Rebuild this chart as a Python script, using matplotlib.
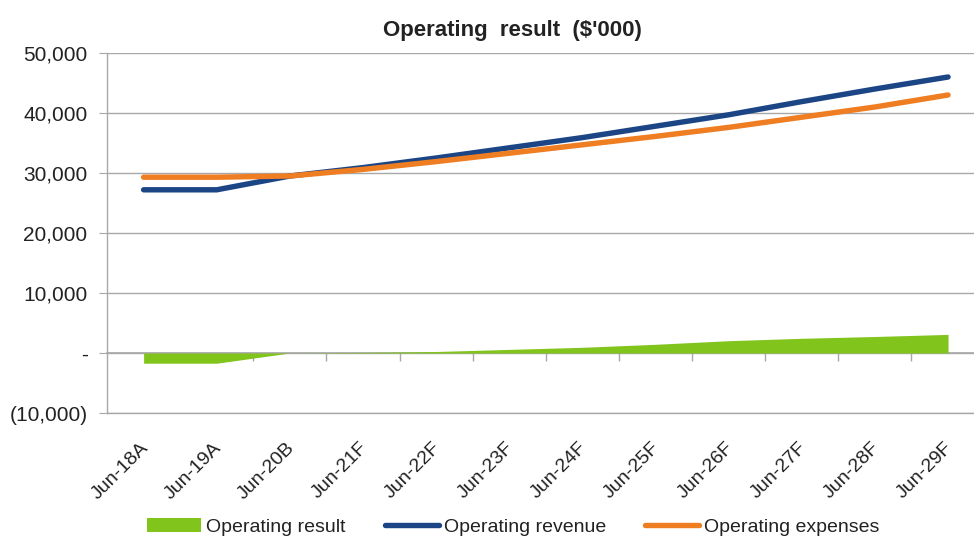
import numpy as np
import matplotlib
matplotlib.use('Agg')
import matplotlib.pyplot as plt
import matplotlib.transforms as mtransforms
from matplotlib.ticker import FuncFormatter

# ── Data ($'000) ─────────────────────────────────────────────
periods = ['Jun-18A', 'Jun-19A', 'Jun-20B', 'Jun-21F', 'Jun-22F', 'Jun-23F',
           'Jun-24F', 'Jun-25F', 'Jun-26F', 'Jun-27F', 'Jun-28F', 'Jun-29F']
revenue  = [27200, 27200, 29500, 30900, 32500, 34200, 35900, 37800, 39700, 41900, 44000, 46000]
expenses = [29300, 29300, 29500, 30600, 31900, 33300, 34700, 36100, 37600, 39300, 41000, 43000]
result   = [-1700, -1700, 0, 100, 250, 600, 950, 1450, 2050, 2450, 2750, 3100]

yticks = [-10000, 0, 10000, 20000, 30000, 40000, 50000]

GREEN  = '#80c41c'
NAVY   = '#1b4585'
ORANGE = '#ef7d22'
GRID   = '#a8a8a8'

plt.rcParams['font.family'] = ['Liberation Sans', 'DejaVu Sans']

fig = plt.figure(figsize=(9.74, 5.43), dpi=100)
ax = fig.add_axes([0.1099, 0.2394, 0.9010, 0.6630])

x = np.arange(len(periods))

ax.fill_between(x, result, 0, color=GREEN, linewidth=0, label='Operating result', zorder=2)
ax.plot(x, revenue, color=NAVY, lw=3.9, solid_capstyle='round', label='Operating revenue', zorder=3)
ax.plot(x, expenses, color=ORANGE, lw=3.9, solid_capstyle='round', label='Operating expenses', zorder=4)

ax.set_xlim(-0.5, len(periods) - 0.5)
ax.set_ylim(-10000, 50000)
ax.set_yticks(yticks)

def fmt(v, pos):
    if v == 0:
        return '-'
    if v < 0:
        return f'({abs(v):,.0f})'
    return f'{v:,.0f}'

ax.yaxis.set_major_formatter(FuncFormatter(fmt))
ax.yaxis.grid(True, color=GRID, lw=1.0)
ax.set_axisbelow(True)

for s in ['top', 'right']:
    ax.spines[s].set_visible(False)
for s in ['left', 'bottom']:
    ax.spines[s].set_color(GRID)
    ax.spines[s].set_linewidth(1.0)

ax.tick_params(axis='y', length=6, color=GRID, pad=8, labelsize=15, labelcolor='#222')
ax.set_xticks(x)
ax.set_xticklabels(periods, rotation=45, ha='right', rotation_mode='anchor',
                   fontsize=14, color='#222')
ax.tick_params(axis='x', length=0, pad=19)
shift = mtransforms.ScaledTranslation(-4 / 100, 0, fig.dpi_scale_trans)
for lbl in ax.get_xticklabels():
    lbl.set_transform(lbl.get_transform() + shift)

# category axis crossing at zero with tick marks between categories
sec = ax.secondary_xaxis(1/6)
sec.set_xticks(np.arange(0.5, len(periods), 1.0))
sec.set_xticklabels([])
sec.tick_params(axis='x', direction='out', length=6, color=GRID, width=1.0)
sec.spines['bottom'].set_color(GRID)
sec.spines['bottom'].set_linewidth(1.2)

fig.text(0.526, 0.943, "Operating  result  ($'000)", ha='center', va='center',
         fontsize=16, fontweight='bold', color='#222')

fig.legend(loc='center', bbox_to_anchor=(0.527, 0.029), ncol=3, frameon=False,
           fontsize=14, handlelength=2.8, handletextpad=0.25, columnspacing=2.0,
           labelcolor='#222')

fig.savefig('out.png', dpi=100, facecolor='white')
